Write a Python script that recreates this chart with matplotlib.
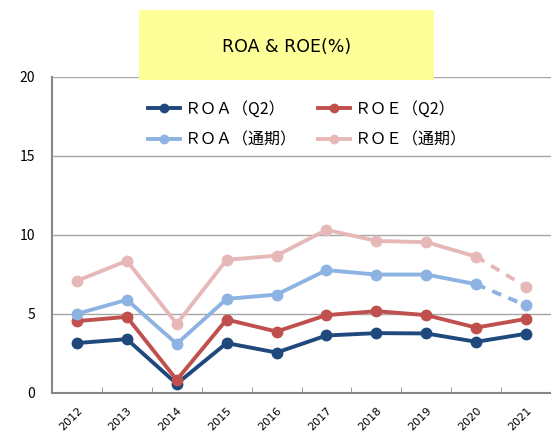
import matplotlib.pyplot as plt
from matplotlib.patches import Rectangle

plt.rcParams['font.family'] = ['Noto Sans CJK JP', 'DejaVu Sans']

years = ['2012', '2013', '2014', '2015', '2016', '2017', '2018', '2019', '2020', '2021']
roa_q2 = [3.13, 3.38, 0.55, 3.13, 2.53, 3.61, 3.76, 3.74, 3.21, 3.72]
roe_q2 = [4.52, 4.79, 0.80, 4.62, 3.86, 4.90, 5.15, 4.90, 4.11, 4.66]
roa_fy = [4.98, 5.87, 3.08, 5.93, 6.20, 7.75, 7.47, 7.47, 6.86, 5.51]
roe_fy = [7.07, 8.34, 4.35, 8.40, 8.67, 10.30, 9.60, 9.52, 8.61, 6.69]
labels = ['ＲＯＡ（Q2）', 'ＲＯＥ（Q2）', 'ＲＯＡ（通期）', 'ＲＯＥ（通期）']

c_roa_q2 = '#1F497D'
c_roe_q2 = '#C0504D'
c_roa_fy = '#8DB3E2'
c_roe_fy = '#E6B9B8'

fig = plt.figure(figsize=(5.51, 4.38), dpi=100)
ax = fig.add_axes([52/551, 1 - 392.5/438, 1 - 52/551, (392.5 - 76.7)/438])

x = list(range(len(years)))
lw = 2.8
ms = 7.5

# full-year series: solid up to 2020, dashed to 2021 (forecast)
ax.plot(x[:-1], roe_fy[:-1], color=c_roe_fy, lw=lw, marker='o', ms=ms, zorder=2)
ax.plot(x[-2:], roe_fy[-2:], color=c_roe_fy, lw=lw, ls=(0, (2.5, 2)), zorder=2)
ax.plot(x[-1:], roe_fy[-1:], color=c_roe_fy, marker='o', ms=ms, ls='none', zorder=2)

ax.plot(x, roa_q2, color=c_roa_q2, lw=lw, marker='o', ms=ms, zorder=3)
ax.plot(x, roe_q2, color=c_roe_q2, lw=lw, marker='o', ms=ms, zorder=4)

ax.plot(x[:-1], roa_fy[:-1], color=c_roa_fy, lw=lw, marker='o', ms=ms, zorder=5)
ax.plot(x[-2:], roa_fy[-2:], color=c_roa_fy, lw=lw, ls=(0, (2.5, 2)), zorder=5)
ax.plot(x[-1:], roa_fy[-1:], color=c_roa_fy, marker='o', ms=ms, ls='none', zorder=5)

ax.set_xlim(-0.5, 9.5)
ax.set_ylim(0, 20)
ax.set_yticks([0, 5, 10, 15, 20])
ax.set_xticks(x)
ax.set_xticklabels(years, rotation=45, fontsize=8, family='DejaVu Sans')
ax.set_xticks([i + 0.5 for i in range(9)], minor=True)
ax.tick_params(axis='x', which='major', length=0, pad=9)
ax.tick_params(axis='x', which='minor', length=4, color='#878787', direction='in')
ax.tick_params(axis='y', length=0, labelsize=10, pad=12)
for lab in ax.get_xticklabels():
    lab.set_ha('right')
    lab.set_rotation_mode('anchor')

ax.grid(axis='y', color='#A6A6A6', lw=1)
ax.set_axisbelow(True)
for s in ['top', 'right']:
    ax.spines[s].set_visible(False)
for s in ['left', 'bottom']:
    ax.spines[s].set_color('#878787')
    ax.spines[s].set_linewidth(1.5)
ax.spines['bottom'].set_zorder(6)

# legend
h = [plt.Line2D([], [], color=c, lw=2.8, marker='o', ms=6)
     for c in [c_roa_q2, c_roa_fy, c_roe_q2, c_roe_fy]]
ax.legend(h, [labels[0], labels[2], labels[1], labels[3]], ncol=2,
          loc='upper center', bbox_to_anchor=(0.512, 0.97), frameon=False,
          fontsize=11.5, handlelength=2.0, handletextpad=0.3,
          columnspacing=1.3, labelspacing=0.85)

# title box
fig.patches.append(Rectangle((139/551, 1 - 80/438), (434 - 139)/551, 70/438,
                             transform=fig.transFigure, facecolor='#FFFF99',
                             edgecolor='none', zorder=10))
fig.text(287/551, 1 - 47/438, 'ROA & ROE(%)', ha='center', va='center',
         fontsize=12.5, family='DejaVu Sans', zorder=11)

plt.savefig('out.png')
